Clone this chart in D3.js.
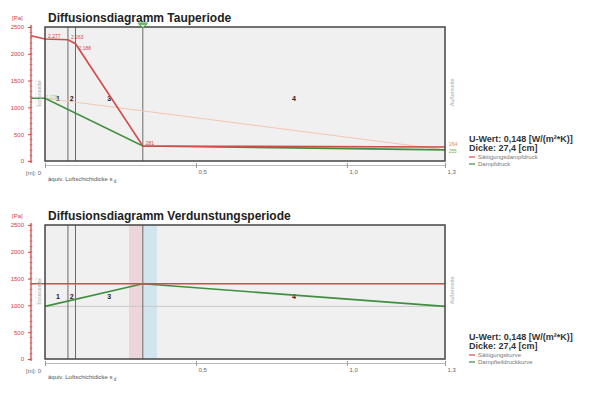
<!DOCTYPE html>
<html>
<head>
<meta charset="utf-8">
<script src="https://cdn.jsdelivr.net/npm/d3@7"></script>
<style>
  body { margin: 0; background: #fff; font-family: 'Liberation Sans', Arial, sans-serif; }
  svg text { font-family: 'Liberation Sans', Arial, sans-serif; }
</style>
</head>
<body>
<svg id="chart" width="600" height="395"></svg>
<script>
// layer boundaries as equivalent air layer thickness s_d [m]
const layerSd = [0, 0.076, 0.101, 0.324, 1.325];
const layerNames = ['1', '2', '3', '4'];
const xTickValues = [0.5, 1.0];
const xEndLabel = '1,3';
const yTickValues = [0, 500, 1000, 1500, 2000, 2500];

// Tauperiode
const tauSatSd = [0, 0.076, 0.101, 0.324, 1.325];
const tauSatPa = [2277, 2263, 2188, 281, 260];
const tauSatAir = 2337;
const tauSatLabels = ['2.277', '2.263', '2.188', '281', '264'];
const tauVapSd = [0, 0.324, 1.325];
const tauVapPa = [1170, 281, 208];
const tauVapAir = 1170;
const tauVapLabels = ['1.170', '', '255'];
const tauStraightSd = [0, 1.325];
const tauStraightPa = [1170, 208];
const tauCondensationSd = 0.324;

// Verdunstungsperiode
const verSatSd = [0, 1.325];
const verSatPa = [1403, 1403];
const verSatAir = 1403;
const verVapSd = [0, 0.324, 1.325];
const verVapPa = [982, 1403, 982];
const verRefPa = 982;
const verPinkBand = [0.278, 0.324];
const verBlueBand = [0.324, 0.371];

const uValue = 'U-Wert: 0,148 [W/(m²*K)]';
const thickness = 'Dicke: 27,4 [cm]';

const RED = '#d24a4a';
const GREEN = '#3f8f3f';

const svg = d3.select('#chart');

const x = d3.scaleLinear().domain([0, 1.325]).range([45, 445]);
const y = d3.scaleLinear().domain([0, 2500]).range([161, 27]);
const axisX = 31;

function drawPanel(offsetY, cfg) {
  const g = svg.append('g').attr('transform', `translate(0,${offsetY})`);

  // title
  g.append('text')
    .attr('x', 48).attr('y', 22)
    .style('font-size', '12px').style('font-weight', 'bold').style('fill', '#222')
    .text(cfg.title);

  // plot box
  g.append('rect')
    .attr('x', x(0)).attr('y', y(2500))
    .attr('width', x(1.325) - x(0)).attr('height', y(0) - y(2500))
    .style('fill', '#f0f0f0');

  // bands
  (cfg.bands || []).forEach((b) => {
    g.append('rect')
      .attr('x', x(b.range[0])).attr('y', y(2500))
      .attr('width', x(b.range[1]) - x(b.range[0])).attr('height', y(0) - y(2500))
      .style('fill', b.color);
  });

  // reference line
  if (cfg.refPa != null) {
    g.append('line')
      .attr('x1', x(0)).attr('x2', x(1.325))
      .attr('y1', y(cfg.refPa)).attr('y2', y(cfg.refPa))
      .style('stroke', '#c8c8c8').style('stroke-width', 1);
  }

  // layer boundaries
  g.selectAll('line.layer')
    .data(layerSd.slice(1, -1))
    .join('line')
    .attr('class', 'layer')
    .attr('x1', (d) => x(d)).attr('x2', (d) => x(d))
    .attr('y1', y(2500)).attr('y2', y(0))
    .style('stroke', '#6a6a6a').style('stroke-width', 1);

  // layer numbers
  g.selectAll('text.layername')
    .data(layerNames)
    .join('text')
    .attr('class', 'layername')
    .attr('x', (d, i) => (x(layerSd[i]) + x(layerSd[i + 1])) / 2 + (i === 0 ? 1.5 : 0))
    .attr('y', y(1175) + 3)
    .attr('text-anchor', 'middle')
    .style('font-size', '7px').style('font-weight', 'bold').style('fill', '#222')
    .text((d) => d);

  // straight (no-condensation) line
  if (cfg.straight) {
    g.append('path')
      .datum(cfg.straight.sd.map((s, i) => [s, cfg.straight.pa[i]]))
      .attr('d', d3.line().x((d) => x(d[0])).y((d) => y(d[1])))
      .style('fill', 'none').style('stroke', '#f3c6b2').style('stroke-width', 1);
  }

  const line = d3.line().x((d) => d[0]).y((d) => y(d[1]));
  const sat = [[axisX, cfg.satAir]].concat(cfg.satSd.map((s, i) => [x(s), cfg.satPa[i]]));
  const vap = cfg.vapFromAxis
    ? [[axisX, cfg.vapAir]].concat(cfg.vapSd.map((s, i) => [x(s), cfg.vapPa[i]]))
    : cfg.vapSd.map((s, i) => [x(s), cfg.vapPa[i]]);

  g.append('path').datum(vap).attr('d', line)
    .style('fill', 'none').style('stroke', GREEN).style('stroke-width', 1.6);
  g.append('path').datum(sat).attr('d', line)
    .style('fill', 'none').style('stroke', RED).style('stroke-width', 1.6);

  // value labels
  (cfg.satLabels || []).forEach((t, i) => {
    if (!t) return;
    const last = i === cfg.satSd.length - 1;
    g.append('text')
      .attr('x', x(cfg.satSd[i]) + (last ? 4 : 3))
      .attr('y', y(cfg.satPa[i]) + (i === 2 ? 6 : -1))
      .style('font-size', '5px').style('fill', last ? '#e08a40' : '#d24a4a')
      .text(t);
  });
  (cfg.vapLabels || []).forEach((t, i) => {
    if (!t) return;
    const last = i === cfg.vapSd.length - 1;
    g.append('text')
      .attr('x', x(cfg.vapSd[i]) + (last ? 4 : 1))
      .attr('y', y(cfg.vapPa[i]) + (last ? 3 : 1))
      .style('font-size', '4.5px').style('fill', last ? '#6aa84f' : '#8fc88f')
      .text(t);
  });

  // box border
  g.append('rect')
    .attr('x', x(0)).attr('y', y(2500))
    .attr('width', x(1.325) - x(0)).attr('height', y(0) - y(2500))
    .style('fill', 'none').style('stroke', '#444').style('stroke-width', 1.5);

  // condensation marker
  if (cfg.markerSd != null) {
    const mx = x(cfg.markerSd);
    g.append('path')
      .attr('d', `M${mx - 4},${y(2500) - 3} L${mx + 4},${y(2500) - 3} L${mx},${y(2500) + 1} Z`)
      .style('fill', '#bfe6bf').style('stroke', '#3c9a3c').style('stroke-width', 1);
    g.append('line')
      .attr('x1', mx - 5).attr('x2', mx + 5)
      .attr('y1', y(2500) - 4).attr('y2', y(2500) - 4)
      .style('stroke', '#3c9a3c').style('stroke-width', 1);
  }

  // side labels
  const side = (tx, ty, text) => {
    const sg = g.append('g').attr('transform', `translate(${tx},${ty}) rotate(-90)`);
    sg.append('text').attr('text-anchor', 'middle').attr('y', 2)
      .style('font-size', '5.5px').style('fill', '#aaa').text(text);
  };
  g.append('rect').attr('x', 36).attr('y', y(1170) - 18).attr('width', 5).attr('height', 26)
    .style('fill', 'none').style('stroke', '#ccc').style('stroke-width', 0.6).style('stroke-dasharray', '1.5,1');
  side(38.5, y(1170) - 5, 'Innenseite');
  side(452, y(1170) - 6, 'Außenseite');

  // y axis
  const yAxis = d3.axisLeft(y).tickValues(yTickValues).tickSize(3).tickFormat(d3.format('d'));
  const ya = g.append('g').attr('transform', `translate(${axisX},0)`).call(yAxis);
  ya.select('.domain').attr('d', `M0,${y(2500) - 2}V${y(0) + 2}`).style('stroke', RED).style('stroke-width', 1.3);
  ya.selectAll('.tick line').style('stroke', RED);
  ya.selectAll('.tick text').attr('x', -7).style('font-size', '6px').style('fill', '#d04040')
    .style('font-family', "'Liberation Sans', Arial, sans-serif");
  g.append('g').selectAll('line')
    .data(d3.range(0, 2501, 100))
    .join('line')
    .attr('x1', axisX - 1.5).attr('x2', axisX + 1.5)
    .attr('y1', (d) => y(d)).attr('y2', (d) => y(d))
    .style('stroke', RED).style('stroke-width', 0.6);
  g.append('text').attr('x', 12).attr('y', 20)
    .style('font-size', '6px').style('fill', '#d04040').text('[Pa]');

  // x axis
  const xAxis = d3.axisBottom(x).tickValues([0].concat(xTickValues, [1.325])).tickSize(5)
    .tickFormat((d) => (d === 1.325 ? xEndLabel : (d === 0 ? '' : d3.format('.1f')(d).replace('.', ','))));
  const xa = g.append('g').attr('transform', 'translate(0,163)').call(xAxis);
  xa.select('.domain').attr('d', `M${x(0)},2.5H${x(1.325)}`).style('stroke', '#bbb').style('stroke-width', 1);
  xa.selectAll('.tick line').style('stroke', '#999');
  xa.selectAll('.tick text').attr('text-anchor', 'start').attr('dx', 2).attr('y', 7)
    .style('font-size', '6px').style('fill', '#666')
    .style('font-family', "'Liberation Sans', Arial, sans-serif");
  g.append('text').attr('x', 41).attr('y', 175).attr('text-anchor', 'end')
    .style('font-size', '6px').style('fill', '#666').text('[m]: 0');
  const xl = g.append('text').attr('x', 48).attr('y', 181)
    .style('font-size', '6px').style('fill', '#555');
  xl.append('tspan').text('äquiv. Luftschichtdicke s');
  xl.append('tspan').attr('dy', 1.5).style('font-size', '4.5px').text(' d');

  // info and legend
  g.append('text').attr('x', 469).attr('y', cfg.infoY)
    .style('font-size', '9px').style('font-weight', 'bold').style('fill', '#333').text(uValue);
  g.append('text').attr('x', 469).attr('y', cfg.infoY + 8.5)
    .style('font-size', '9px').style('font-weight', 'bold').style('fill', '#333').text(thickness);
  cfg.legend.forEach((l, i) => {
    const ly = cfg.infoY + 17 + i * 7;
    g.append('line').attr('x1', 469).attr('x2', 475).attr('y1', ly - 2).attr('y2', ly - 2)
      .style('stroke', l.color).style('stroke-width', 1.2);
    g.append('text').attr('x', 478).attr('y', ly)
      .style('font-size', '6px').style('fill', '#777').text(l.name);
  });
}

drawPanel(0, {
  title: 'Diffusionsdiagramm Tauperiode',
  satSd: tauSatSd, satPa: tauSatPa, satAir: tauSatAir, satLabels: tauSatLabels,
  vapSd: tauVapSd, vapPa: tauVapPa, vapAir: tauVapAir, vapLabels: tauVapLabels, vapFromAxis: true,
  straight: { sd: tauStraightSd, pa: tauStraightPa },
  markerSd: tauCondensationSd,
  infoY: 142,
  legend: [{ name: 'Sättigungsdampfdruck', color: RED }, { name: 'Dampfdruck', color: GREEN }],
});

drawPanel(198, {
  title: 'Diffusionsdiagramm Verdunstungsperiode',
  satSd: verSatSd, satPa: verSatPa, satAir: verSatAir,
  vapSd: verVapSd, vapPa: verVapPa, vapFromAxis: false,
  refPa: verRefPa,
  bands: [{ range: verPinkBand, color: '#ecd6da' }, { range: verBlueBand, color: '#d2e5ee' }],
  infoY: 142,
  legend: [{ name: 'Sättigungskurve', color: RED }, { name: 'Dampfteildruckkurve', color: GREEN }],
});
</script>
</body>
</html>
